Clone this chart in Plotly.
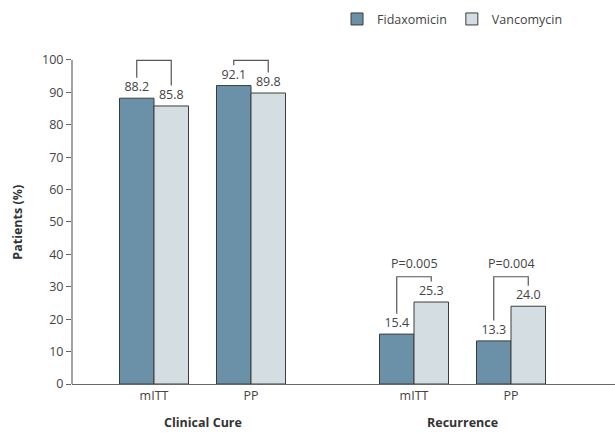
import plotly.graph_objects as go

# ---- data ----
groups = ["Clinical Cure", "Recurrence"]
subgroups = ["mITT", "PP", "mITT", "PP"]
fidaxomicin = [88.2, 92.1, 15.4, 13.3]
vancomycin = [85.8, 89.8, 25.3, 24.0]
p_values = ["", "", "P=0.005", "P=0.004"]
y_ticks = [0, 10, 20, 30, 40, 50, 60, 70, 80, 90, 100]

# ---- layout constants ----
FIDA_COLOR = "#6a91a7"
VANC_COLOR = "#d4dee2"
EDGE = "#3c3c3c"
TEXT = "#444444"
FONT = "Open Sans"
FS = 12.5
bar_w = 34.5
within_gap = 97
between_gap = 163
first_center = 82

centers = []
c = first_center
for i in range(len(subgroups)):
    centers.append(c)
    c += within_gap if i % 2 == 0 else between_gap
fida_x = [x - bar_w / 2 for x in centers]
vanc_x = [x + bar_w / 2 for x in centers]

fig = go.Figure()
fig.add_trace(go.Bar(
    x=fida_x, y=fidaxomicin, width=bar_w, name="Fidaxomicin",
    marker=dict(color=FIDA_COLOR, line=dict(color=EDGE, width=1)),
    text=[f"{v:.1f}" for v in fidaxomicin], textposition="outside",
    textfont=dict(size=FS, color=TEXT, family=FONT), cliponaxis=False,
))
fig.add_trace(go.Bar(
    x=vanc_x, y=vancomycin, width=bar_w, name="Vancomycin",
    marker=dict(color=VANC_COLOR, line=dict(color=EDGE, width=1)),
    text=[f"{v:.1f}" for v in vancomycin], textposition="outside",
    textfont=dict(size=FS, color=TEXT, family=FONT), cliponaxis=False,
))

shapes = []
annotations = []
# brackets
for i in range(len(subgroups)):
    g = i // 2
    gmax = max(fidaxomicin[2 * g:2 * g + 2] + vancomycin[2 * g:2 * g + 2])
    top = gmax + 7.8
    lb = fidaxomicin[i] + 6.3
    rb = vancomycin[i] + 6.3
    shapes.append(dict(type="path", xref="x", yref="y",
                       path=f"M {fida_x[i]},{lb} L {fida_x[i]},{top} L {vanc_x[i]},{top} L {vanc_x[i]},{rb}",
                       line=dict(color="#555555", width=1.2)))
    if p_values[i]:
        annotations.append(dict(x=centers[i], y=top + 1.0, xref="x", yref="y",
                                text=p_values[i], showarrow=False, yanchor="bottom",
                                font=dict(size=FS, color=TEXT, family=FONT)))

# y axis line from 0 to 100
shapes.append(dict(type="line", xref="paper", yref="y", x0=0, x1=0, y0=0, y1=100,
                   line=dict(color="#666666", width=1.2)))

# group labels
for g, name in enumerate(groups):
    annotations.append(dict(x=(centers[2 * g] + centers[2 * g + 1]) / 2, y=-0.115,
                            xref="x", yref="paper", text=f"<b>{name}</b>", showarrow=False,
                            yanchor="middle", font=dict(size=FS, color="#333333", family=FONT)))

annotations.append(dict(x=-0.1, y=50, xref="paper", yref="y", text="<b>Patients (%)</b>",
                        textangle=-90, showarrow=False, xanchor="center", yanchor="middle",
                        font=dict(size=FS, color="#333333", family=FONT)))

fig.update_layout(
    width=615, height=433,
    margin=dict(l=72, r=0, t=47, b=49),
    paper_bgcolor="white", plot_bgcolor="white",
    font=dict(family=FONT, size=FS, color=TEXT),
    barmode="overlay",
    showlegend=True,
    legend=dict(orientation="h", xref="container", yref="container", x=0.548, y=0.99,
                xanchor="left", yanchor="top", font=dict(size=FS, color=TEXT, family=FONT),
                itemwidth=30, tracegroupgap=0),
    shapes=shapes, annotations=annotations,
    xaxis=dict(range=[0, 543], tickvals=centers, ticktext=subgroups, showgrid=False,
               zeroline=False, showline=True, linecolor="#666666", linewidth=1.2,
               ticks="", tickfont=dict(size=FS, color=TEXT, family=FONT)),
    yaxis=dict(range=[0, 104], tickvals=y_ticks, showgrid=False, zeroline=False,
               showline=False, ticks="outside", ticklen=5, tickcolor="#666666", tickwidth=1.2,
               tickfont=dict(size=FS, color=TEXT, family=FONT)),
)

fig.write_html("out.html", config={"displayModeBar": False},
               post_script="document.body.style.margin='0';")
